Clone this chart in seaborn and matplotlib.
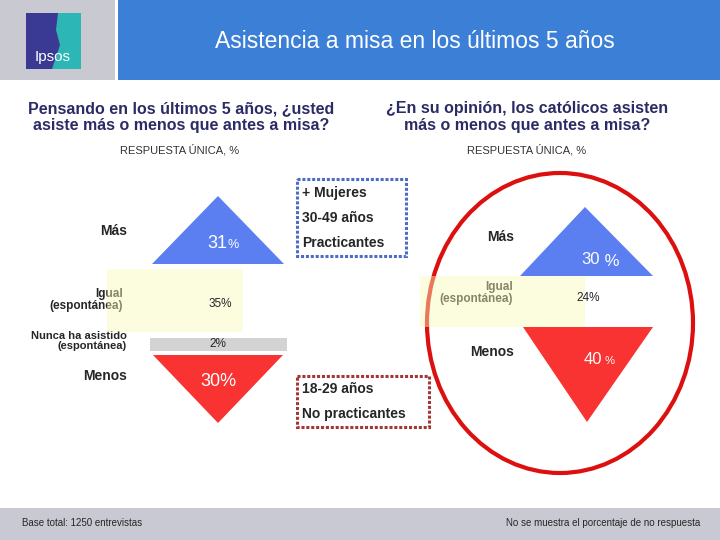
import matplotlib
matplotlib.use("Agg")
import matplotlib.pyplot as plt
import matplotlib.patches as mpatches
import seaborn as sns

sns.set_theme(style="white")
plt.rcParams['font.family'] = ['Liberation Sans', 'DejaVu Sans']

# data
LEFT_CATS = ['Más', 'Igual\n(espontánea)', 'Nunca ha asistido\n(espontánea)', 'Menos']
LEFT_VALS = [31, 35, 2, 30]
RIGHT_CATS = ['Más', 'Igual\n(espontánea)', 'Menos']
RIGHT_VALS = [30, 24, 40]
PROFILE_UP = ['+ Mujeres', '30-49 años', 'Practicantes']
PROFILE_DOWN = ['18-29 años', 'No practicantes']

BLUE = '#5b7ff0'
RED = '#f93232'
YELLOW = (250 / 255, 250 / 255, 186 / 255)
NAVY = '#2b2b66'

fig = plt.figure(figsize=(7.2, 5.4), dpi=100)
ax = fig.add_axes([0, 0, 1, 1])
ax.set_xlim(0, 720)
ax.set_ylim(540, 0)
ax.axis('off')

# header
ax.add_patch(mpatches.Rectangle((0, 0), 115, 80, color='#c9c9d1', lw=0))
ax.add_patch(mpatches.Rectangle((118, 0), 602, 80, color='#3b80d6', lw=0))
ax.add_patch(mpatches.Rectangle((26, 13), 55, 56, color='#3a3a94', lw=0))
ax.add_patch(mpatches.Polygon([(58, 13), (81, 13), (81, 69), (52, 69), (60, 45), (56, 30)],
                              closed=True, color='#2cb6b6', lw=0))
ax.text(53, 57, 'Ipsos', color='white', fontsize=11, ha='center', va='center')
ax.text(415, 41, 'Asistencia a misa en los últimos 5 años', color='white',
        fontsize=16.5, ha='center', va='center')

# subtitles
ax.text(181, 117, 'Pensando en los últimos 5 años, ¿usted\nasiste más o menos que antes a misa?',
        color=NAVY, fontsize=11.5, ha='center', va='center', linespacing=1.2, weight='bold')
ax.text(527, 117, '¿En su opinión, los católicos asisten\nmás o menos que antes a misa?',
        color=NAVY, fontsize=11.5, ha='center', va='center', linespacing=1.2, weight='bold')
ax.text(180, 150, 'RESPUESTA ÚNICA, %', color='#333333', fontsize=8, ha='center', va='center')
ax.text(527, 150, 'RESPUESTA ÚNICA, %', color='#333333', fontsize=8, ha='center', va='center')


def pct(x, y, v, color, big=12, small=8, space=''):
    ax.text(x, y, f'{v}', color=color, fontsize=big, ha='right', va='center', zorder=5)
    ax.text(x, y + 1, f'{space}%', color=color, fontsize=small, ha='left', va='center', zorder=5)


# left chart
ax.add_patch(mpatches.Polygon([(152, 264), (284, 264), (218, 196)], color=BLUE, lw=0))
ax.add_patch(mpatches.Polygon([(153, 355), (283, 355), (218, 423)], color=RED, lw=0))
ax.add_patch(mpatches.Rectangle((150, 338), 137, 13, color='#d3d3d3', lw=0))
ax.text(127, 231, LEFT_CATS[0], fontsize=10, ha='right', va='center', weight='bold')
ax.text(123, 300, LEFT_CATS[1], fontsize=8.5, ha='right', va='center', linespacing=1.1,
        weight='bold')
ax.text(127, 341, LEFT_CATS[2], fontsize=8, ha='right', va='center', weight='bold',
        linespacing=1.1)
ax.text(127, 376, LEFT_CATS[3], fontsize=10, ha='right', va='center', weight='bold')
ax.add_patch(mpatches.Rectangle((107, 269), 136, 63, color=YELLOW, alpha=0.45, lw=0, zorder=3))
pct(227, 244, LEFT_VALS[0], 'white', 13, 9)
ax.text(220, 304, f'{LEFT_VALS[1]}%', fontsize=8.5, ha='center', va='center', zorder=5)
ax.text(218, 344, f'{LEFT_VALS[2]}%', fontsize=8.5, ha='center', va='center', zorder=5)
ax.text(218, 381, f'{LEFT_VALS[3]}%', color='white', fontsize=13, ha='center', va='center',
        zorder=5)

# profile boxes
ax.add_patch(mpatches.Rectangle((297, 179), 109, 77, fill=False, ec='#4d6cc4', lw=2.2,
                                ls=(0, (1, 0.6))))
for i, s in enumerate(PROFILE_UP):
    ax.text(302, 193 + i * 25, s, fontsize=10, ha='left', va='center', weight='bold')
ax.add_patch(mpatches.Rectangle((297, 376), 132, 51, fill=False, ec='#a33636', lw=2.2,
                                ls=(0, (1, 0.6))))
for i, s in enumerate(PROFILE_DOWN):
    ax.text(302, 389 + i * 25, s, fontsize=10, ha='left', va='center', weight='bold')

# right chart
ax.add_patch(mpatches.Polygon([(520, 276), (653, 276), (585, 207)], color=BLUE, lw=0))
ax.add_patch(mpatches.Polygon([(523, 327), (653, 327), (587, 422)], color=RED, lw=0))
ax.text(514, 237, RIGHT_CATS[0], fontsize=10, ha='right', va='center', weight='bold')
ax.text(513, 293, RIGHT_CATS[1], fontsize=8.5, ha='right', va='center', linespacing=1.1,
        weight='bold')
ax.text(514, 352, RIGHT_CATS[2], fontsize=10, ha='right', va='center', weight='bold')
ax.add_patch(mpatches.Rectangle((420, 276), 165, 51, color=YELLOW, alpha=0.45, lw=0, zorder=3))
pct(600, 260, RIGHT_VALS[0], 'white', 12, 12, ' ')
ax.text(588, 298, f'{RIGHT_VALS[1]}%', fontsize=8.5, ha='center', va='center', zorder=5)
pct(602, 360, RIGHT_VALS[2], 'white', 12, 8, ' ')
ax.add_patch(mpatches.Ellipse((560, 323), 266, 300, fill=False, ec='#dd1010', lw=3))

# footer
ax.add_patch(mpatches.Rectangle((0, 508), 720, 32, color='#c9c9d3', lw=0))
ax.text(22, 523, 'Base total: 1250 entrevistas', fontsize=7, ha='left', va='center')
ax.text(700, 523, 'No se muestra el porcentaje de no respuesta', fontsize=7, ha='right',
        va='center')

fig.savefig('out.png', dpi=100)
